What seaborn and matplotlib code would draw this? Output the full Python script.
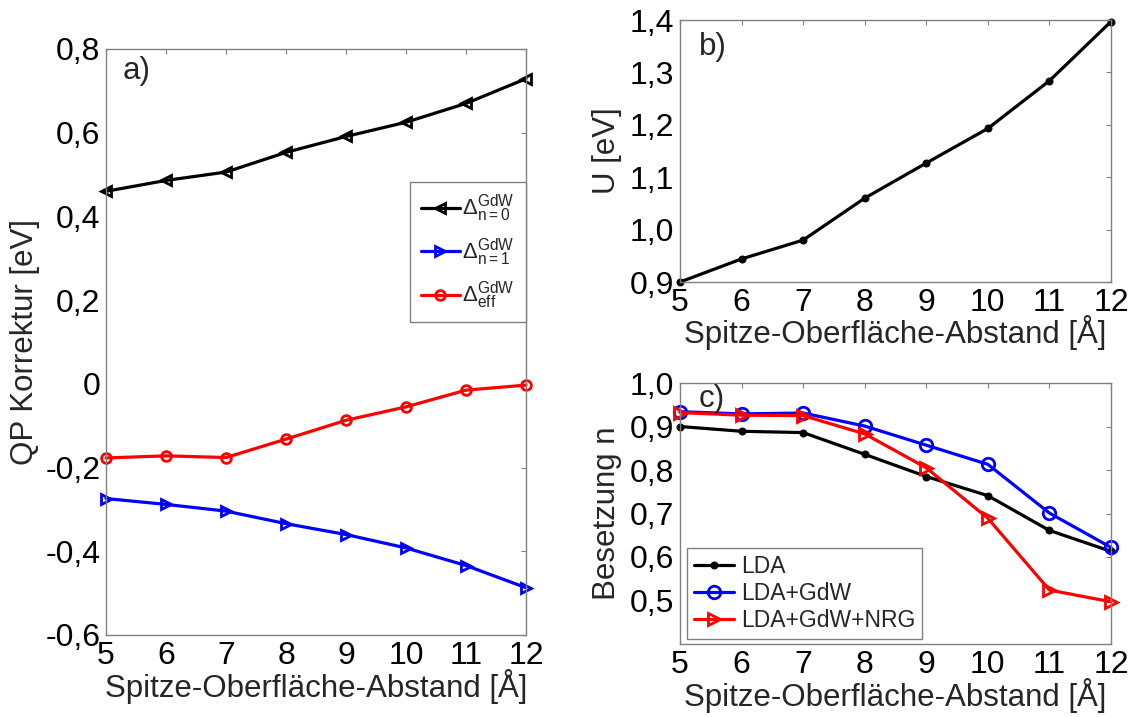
import matplotlib
matplotlib.use("Agg")
import matplotlib.pyplot as plt
import seaborn as sns
from matplotlib.ticker import FuncFormatter, FixedLocator

# ---------------- data ----------------
abstand = [5, 6, 7, 8, 9, 10, 11, 12]

delta_n0 = [0.460, 0.486, 0.506, 0.553, 0.591, 0.625, 0.670, 0.729]
delta_n1 = [-0.274, -0.288, -0.304, -0.334, -0.360, -0.392, -0.434, -0.487]
delta_eff = [-0.177, -0.172, -0.176, -0.132, -0.087, -0.055, -0.015, -0.003]

U_eV = [0.900, 0.944, 0.980, 1.060, 1.127, 1.193, 1.284, 1.397]

n_lda = [0.900, 0.889, 0.886, 0.836, 0.785, 0.741, 0.661, 0.613]
n_gdw = [0.934, 0.929, 0.931, 0.901, 0.857, 0.813, 0.701, 0.622]
n_nrg = [0.932, 0.926, 0.925, 0.883, 0.805, 0.689, 0.524, 0.497]

xticks = [5, 6, 7, 8, 9, 10, 11, 12]
yticks_a = [-0.6, -0.4, -0.2, 0.0, 0.2, 0.4, 0.6, 0.8]
yticks_b = [0.9, 1.0, 1.1, 1.2, 1.3, 1.4]
yticks_c = [0.5, 0.6, 0.7, 0.8, 0.9, 1.0]

xlabel = "Spitze-Oberfläche-Abstand [Å]"

# ---------------- style ----------------
sns.set_style("white")
plt.rcParams["font.family"] = ["Liberation Sans", "DejaVu Sans"]
plt.rcParams["mathtext.fontset"] = "custom"
plt.rcParams["mathtext.rm"] = "Liberation Sans"
plt.rcParams["mathtext.it"] = "Liberation Sans"
plt.rcParams["mathtext.bf"] = "Liberation Sans:bold"

W, H = 1135, 717
fig = plt.figure(figsize=(W / 100, H / 100), dpi=100)


def axes_px(l, r, t, b):
    return fig.add_axes([l / W, 1 - b / H, (r - l) / W, (b - t) / H])


ax_a = axes_px(106, 526, 49, 635)
ax_b = axes_px(680, 1111, 20, 282)
ax_c = axes_px(680, 1111, 383, 644)

SPINE = "#808080"
TICK_FS = 23
LABEL_FS = 22.5


def fmt_a(v, pos):
    if abs(v) < 1e-9:
        return "0"
    return ("%.1f" % v).replace(".", ",")


def fmt_1(v, pos):
    return ("%.1f" % v).replace(".", ",")


def style_axes(ax, yt, fmt, ylim, xpad):
    ax.set_xlim(5, 12)
    ax.set_ylim(*ylim)
    ax.xaxis.set_major_locator(FixedLocator(xticks))
    ax.yaxis.set_major_locator(FixedLocator(yt))
    ax.xaxis.set_major_formatter(FuncFormatter(lambda v, p: "%d" % v))
    ax.yaxis.set_major_formatter(FuncFormatter(fmt))
    ax.tick_params(direction="in", top=True, right=True, length=3.6, width=0.8,
                   color=SPINE, labelcolor="black", labelsize=TICK_FS)
    ax.tick_params(axis="y", pad=4)
    ax.tick_params(axis="x", pad=4)
    for s in ax.spines.values():
        s.set_color(SPINE)
        s.set_linewidth(1.0)
    ax.set_xlabel(xlabel, fontsize=LABEL_FS, labelpad=xpad)
    ax.grid(False)


lw = 2.3
mew = 2.0

# ---- panel a ----
sns.lineplot(x=abstand, y=delta_n0, ax=ax_a, color="black", marker="<", markersize=7,
             markerfacecolor="none", markeredgecolor="black", markeredgewidth=mew,
             linewidth=lw, label=r"$\Delta^{\mathrm{GdW}}_{\mathrm{n=0}}$")
sns.lineplot(x=abstand, y=delta_n1, ax=ax_a, color="blue", marker=">", markersize=7,
             markerfacecolor="none", markeredgecolor="blue", markeredgewidth=mew,
             linewidth=lw, label=r"$\Delta^{\mathrm{GdW}}_{\mathrm{n=1}}$")
sns.lineplot(x=abstand, y=delta_eff, ax=ax_a, color="red", marker="o", markersize=7,
             markerfacecolor="none", markeredgecolor="red", markeredgewidth=mew,
             linewidth=lw, label=r"$\Delta^{\mathrm{GdW}}_{\mathrm{eff}}$")
style_axes(ax_a, yticks_a, fmt_a, (-0.6, 0.8), -1)
ax_a.set_ylabel("QP Korrektur [eV]", fontsize=LABEL_FS)
ax_a.yaxis.set_label_coords(-0.157, 0.5)
ax_a.text(0.040, 0.988, "a)", transform=ax_a.transAxes, fontsize=LABEL_FS,
          va="top", ha="left")
leg = ax_a.legend(loc="upper right", bbox_to_anchor=(1.0, 0.773), fontsize=16,
                  frameon=True, fancybox=False, framealpha=1, edgecolor=SPINE,
                  handlelength=1.75, handletextpad=0.12, borderpad=0.5,
                  labelspacing=0.55, borderaxespad=0)
leg.get_frame().set_linewidth(1.0)

# ---- panel b ----
sns.lineplot(x=abstand, y=U_eV, ax=ax_b, color="black", marker="o", markersize=5,
             markeredgecolor="black", linewidth=lw)
style_axes(ax_b, yticks_b, fmt_1, (0.9, 1.4), -2)
ax_b.set_ylabel("U [eV]", fontsize=LABEL_FS)
ax_b.yaxis.set_label_coords(-0.135, 0.5)
ax_b.text(0.044, 0.954, "b)", transform=ax_b.transAxes, fontsize=LABEL_FS,
          va="top", ha="left")

# ---- panel c ----
sns.lineplot(x=abstand, y=n_lda, ax=ax_c, color="black", marker="o", markersize=5,
             markeredgecolor="black", linewidth=lw, label="LDA")
sns.lineplot(x=abstand, y=n_gdw, ax=ax_c, color="blue", marker="o", markersize=9,
             markerfacecolor="none", markeredgecolor="blue", markeredgewidth=mew,
             linewidth=lw, label="LDA+GdW")
sns.lineplot(x=abstand, y=n_nrg, ax=ax_c, color="red", marker=">", markersize=9,
             markerfacecolor="none", markeredgecolor="red", markeredgewidth=mew,
             linewidth=lw, label="LDA+GdW+NRG")
style_axes(ax_c, yticks_c, fmt_1, (0.4, 1.0), -1)
ax_c.set_ylabel("Besetzung n", fontsize=LABEL_FS)
ax_c.yaxis.set_label_coords(-0.135, 0.5)
ax_c.text(0.044, 0.996, "c)", transform=ax_c.transAxes, fontsize=LABEL_FS,
          va="top", ha="left")
leg2 = ax_c.legend(loc="lower left", bbox_to_anchor=(0.016, 0.019), fontsize=16.5,
                   frameon=True, fancybox=False, framealpha=1, edgecolor=SPINE,
                   handlelength=1.75, handletextpad=0.3, borderpad=0.3,
                   labelspacing=0.18, borderaxespad=0)
leg2.get_frame().set_linewidth(1.0)

for ax in (ax_a, ax_b, ax_c):
    for ln in ax.get_lines():
        ln.set_clip_on(False)

fig.savefig("out.png", dpi=100, facecolor="white")
